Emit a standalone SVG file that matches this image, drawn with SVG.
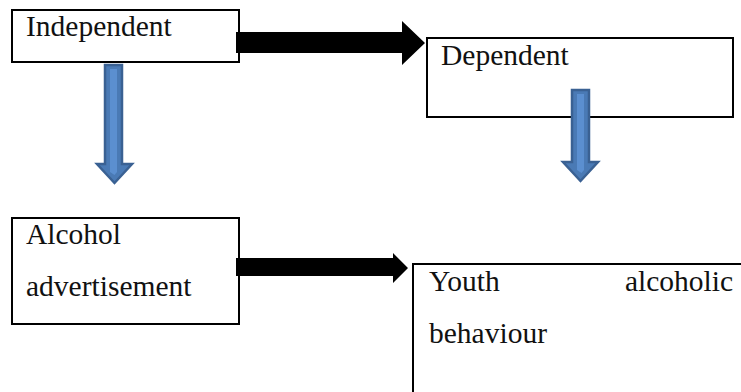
<svg xmlns="http://www.w3.org/2000/svg" width="741" height="392" viewBox="0 0 741 392">
<style>
.box{fill:#fff;stroke:#000;stroke-width:2}
.t{font-family:"Liberation Serif","Times New Roman",serif;font-size:29.5px;fill:#111}
.blk{fill:#000}
.blue{fill:#4A7AB5;stroke:#3A6193;stroke-width:2.5;stroke-linejoin:miter}
.hl{fill:#5B8FD0}
</style>
<rect width="741" height="392" fill="#fff"/>
<g id="independent">
<rect class="box" x="12" y="10" width="227" height="52"/>
<text class="t" x="26" y="36">Independent</text>
</g>
<g id="dependent">
<rect class="box" x="427" y="38" width="306" height="79"/>
<text class="t" x="441" y="65">Dependent</text>
</g>
<g id="alcohol-advertisement">
<rect class="box" x="12" y="218" width="227" height="106"/>
<text class="t" x="26" y="244">Alcohol</text>
<text class="t" x="26" y="296">advertisement</text>
</g>
<g id="youth-alcoholic-behaviour">
<rect class="box" x="413" y="264" width="340" height="200"/>
<text class="t" x="429" y="291">Youth</text>
<text class="t" x="733" y="291" text-anchor="end">alcoholic</text>
<text class="t" x="429" y="343">behaviour</text>
</g>
<g id="connectors">
<polygon class="blk" points="236,32 402,32 402,21 425,43 402,65 402,53 236,53"/>
<polygon class="blk" points="236,258 393,258 393,253 408,268 393,283 393,276 236,276"/>
<polygon class="blue" points="105,65 122,65 122,164 132,164 114.5,183 97,164 105,164"/>
<polygon class="hl" points="110,69 117,69 117,172 114.5,175 110,172"/>
<polygon class="blue" points="572,90 589,90 589,162 598,162 580.5,181 563,162 572,162"/>
<polygon class="hl" points="577,94 584,94 584,170 581.5,173 577,170"/>
</g>
</svg>
